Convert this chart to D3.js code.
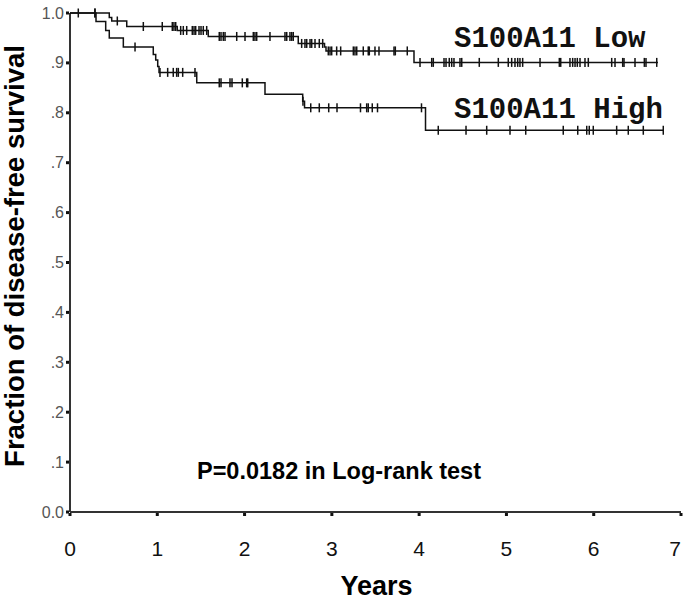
<!DOCTYPE html>
<html>
<head>
<meta charset="utf-8">
<script src="https://cdn.jsdelivr.net/npm/d3@7"></script>
<style>
  html, body { margin: 0; padding: 0; background: #fff; }
  svg { display: block; }
</style>
</head>
<body>
<script>
// ---- data ----
const yTickValues = [0, 0.1, 0.2, 0.3, 0.4, 0.5, 0.6, 0.7, 0.8, 0.9, 1.0];
const yTickLabels = ["0.0", ".1", ".2", ".3", ".4", ".5", ".6", ".7", ".8", ".9", "1.0"];
const xTickValues = [0, 1, 2, 3, 4, 5, 6, 7];

// S100A11 Low: event times and survival after each event
const lowEventTimes = [0.450, 0.478, 0.650, 1.229, 1.584, 2.615, 2.916, 2.933, 3.941];
const lowEventSurv  = [0.991, 0.984, 0.973, 0.965, 0.953, 0.939, 0.932, 0.924, 0.901];
const lowEndTime = 6.736;
const lowCensorTimes = [0.095, 0.286, 0.542, 0.840, 1.057, 1.172, 1.191, 1.211, 1.268, 1.298,
  1.337, 1.401, 1.421, 1.440, 1.478, 1.501, 1.527, 1.566, 1.710, 1.730, 1.756, 1.776, 1.910,
  2.005, 2.100, 2.119, 2.139, 2.291, 2.463, 2.483, 2.520, 2.540, 2.558, 2.654, 2.692, 2.712,
  2.750, 2.769, 2.807, 2.856, 2.895, 2.959, 2.979, 2.998, 3.055, 3.101, 3.246, 3.265, 3.285,
  3.360, 3.417, 3.429, 3.494, 3.540, 3.712, 3.727, 3.864, 4.010, 4.144, 4.162, 4.285, 4.308,
  4.345, 4.373, 4.399, 4.468, 4.488, 4.689, 4.907, 5.021, 5.060, 5.098, 5.129, 5.155, 5.186,
  5.385, 5.606, 5.622, 5.728, 5.759, 5.786, 5.812, 5.843, 5.900, 5.938, 6.206, 6.244, 6.332,
  6.347, 6.473, 6.580, 6.599, 6.722];

// S100A11 High
const highEventTimes = [0.298, 0.409, 0.450, 0.611, 0.954, 0.982, 1.005, 1.020, 1.452, 2.234, 2.666, 2.687, 4.073];
const highEventSurv  = [0.983, 0.965, 0.950, 0.932, 0.917, 0.906, 0.893, 0.881, 0.860, 0.837, 0.823, 0.810, 0.765];
const highEndTime = 6.797;
const highCensorTimes = [0.286, 0.745, 1.031, 1.119, 1.183, 1.222, 1.241, 1.291, 1.432, 1.710,
  1.730, 1.833, 1.856, 1.974, 2.024, 2.036, 2.669, 2.758, 2.856, 2.964, 3.059, 3.328, 3.399,
  3.417, 3.463, 3.523, 4.027, 4.219, 4.537, 4.774, 5.041, 5.221, 5.651, 5.817, 5.920, 5.949,
  5.995, 6.263, 6.396, 6.568, 6.797];

const seriesNames = ["S100A11 Low", "S100A11 High"];
const pLabel = "P=0.0182 in Log-rank test";
const xTitle = "Years";
const yTitle = "Fraction of disease-free survival";

// ---- drawing ----
const W = 683, H = 601;
const svg = d3.select("body").append("svg").attr("width", W).attr("height", H);

const x = d3.scaleLinear().domain([0, 7]).range([70, 681]);
const y = d3.scaleLinear().domain([0, 1]).range([512, 13]);

// axes lines
svg.append("line").attr("x1", x(0)).attr("x2", x(0)).attr("y1", y(1)).attr("y2", y(0))
  .attr("stroke", "#333").attr("stroke-width", 2);
svg.append("line").attr("x1", x(0)).attr("x2", x(7)).attr("y1", y(0)).attr("y2", y(0))
  .attr("stroke", "#333").attr("stroke-width", 2);

// y ticks (small squares on the left) and labels
svg.selectAll(".ytick").data(yTickValues).enter().append("rect")
  .attr("x", x(0) - 4).attr("y", d => y(d) - 1.5).attr("width", 3).attr("height", 3).attr("fill", "#111");
svg.selectAll(".ylab").data(yTickValues).enter().append("text")
  .attr("x", x(0) - 6).attr("y", d => y(d) + 5.5)
  .attr("text-anchor", "end").attr("font-family", "Liberation Sans, Arial, sans-serif")
  .attr("font-size", 16).attr("fill", "#555")
  .text((d, i) => yTickLabels[i]);

// x ticks (small squares below) and labels
svg.selectAll(".xtick").data(xTickValues).enter().append("rect")
  .attr("x", d => x(d) - 1.5).attr("y", y(0) + 1).attr("width", 3).attr("height", 3).attr("fill", "#111");
svg.selectAll(".xlab").data(xTickValues).enter().append("text")
  .attr("x", d => Math.min(x(d), W - 8)).attr("y", 556)
  .attr("text-anchor", "middle").attr("font-family", "Liberation Sans, Arial, sans-serif")
  .attr("font-size", 21).attr("fill", "#111")
  .text(d => d);

// axis titles
svg.append("text").attr("x", x(3.5) + 1).attr("y", 595)
  .attr("text-anchor", "middle").attr("font-family", "Liberation Sans, Arial, sans-serif")
  .attr("font-weight", "bold").attr("font-size", 27).attr("fill", "#000").text(xTitle);
svg.append("text").attr("transform", "translate(24,256) rotate(-90)")
  .attr("text-anchor", "middle").attr("font-family", "Liberation Sans, Arial, sans-serif")
  .attr("font-weight", "bold").attr("font-size", 27.5).attr("fill", "#000").text(yTitle);

// KM curves
function stepPoints(times, surv, end) {
  const pts = [[0, 1]];
  times.forEach((t, i) => pts.push([t, surv[i]]));
  pts.push([end, surv[surv.length - 1]]);
  return pts;
}
function survAt(times, surv, t) {
  let s = 1;
  for (let i = 0; i < times.length; i++) if (times[i] <= t) s = surv[i];
  return s;
}
const line = d3.line().x(d => x(d[0])).y(d => y(d[1])).curve(d3.curveStepAfter);

const series = [
  { times: lowEventTimes, surv: lowEventSurv, end: lowEndTime, cens: lowCensorTimes },
  { times: highEventTimes, surv: highEventSurv, end: highEndTime, cens: highCensorTimes }
];
series.forEach(s => {
  svg.append("path").datum(stepPoints(s.times, s.surv, s.end)).attr("d", line)
    .attr("fill", "none").attr("stroke", "#111").attr("stroke-width", 1.5);
  svg.selectAll(null).data(s.cens).enter().append("line")
    .attr("x1", d => x(d)).attr("x2", d => x(d))
    .attr("y1", d => y(survAt(s.times, s.surv, d)) - 4.5)
    .attr("y2", d => y(survAt(s.times, s.surv, d)) + 4.5)
    .attr("stroke", "#111").attr("stroke-width", 1.5);
});

// series labels
svg.append("text").attr("x", 454).attr("y", 47)
  .attr("font-family", "Liberation Mono, Courier New, monospace").attr("font-weight", "bold")
  .attr("font-size", 29).attr("fill", "#111").text(seriesNames[0]);
svg.append("text").attr("x", 454).attr("y", 118)
  .attr("font-family", "Liberation Mono, Courier New, monospace").attr("font-weight", "bold")
  .attr("font-size", 29).attr("fill", "#111").text(seriesNames[1]);

// p-value annotation
svg.append("text").attr("x", 339).attr("y", 479)
  .attr("text-anchor", "middle").attr("font-family", "Liberation Sans, Arial, sans-serif")
  .attr("font-weight", "bold").attr("font-size", 23.5).attr("fill", "#000").text(pLabel);
</script>
</body>
</html>
